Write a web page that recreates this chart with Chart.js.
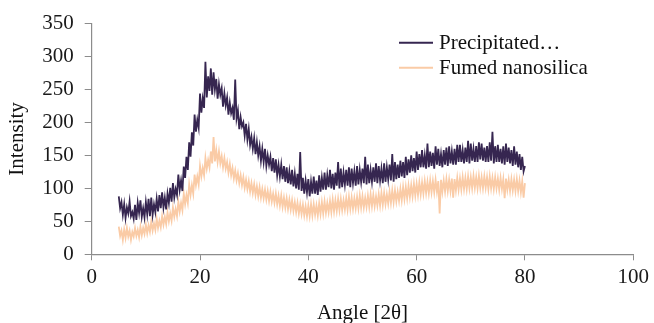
<!DOCTYPE html>
<html>
<head>
<meta charset="utf-8">
<script src="https://cdn.jsdelivr.net/npm/chart.js@4.4.0/dist/chart.umd.min.js"></script>
<style>
html,body{margin:0;padding:0;background:#fff;}
#c{display:block;}
</style>
</head>
<body>
<canvas id="c" width="654" height="323"></canvas>
<script>
// Sampling grid of the diffractograms: 5° to 80° 2θ, every 0.25°
const angleStart = 5, angleStep = 0.25;

// Precipitated nanosilica, 4 samples per degree
const precipitated = [
88,70,79,60, 76,55,71,62, 80,58,64,54, 75,52,78,63, 82,57,70,56,
79,61,84,58, 86,60,76,64, 84,65,90,70, 94,71,86,68, 92,78,101,80,
108,86,99,90, 121,98,112,96, 133,116,148,128, 170,148,185,165, 212,186,204,192,
244,215,236,222, 292,238,270,248, 282,242,276,250, 266,236,258,242, 252,224,244,226,
238,212,230,214, 222,204,265,206, 218,190,208,194, 200,180,198,174, 190,166,178,160,
176,152,170,150, 164,142,160,140, 160,134,150,136, 148,126,146,124, 144,120,136,118,
136,114,134,110, 132,108,126,106, 128,103,122,100, 122,98,155,96, 116,92,112,94,
114,88,110,92, 118,92,112,90, 120,95,116,98, 124,98,120,102, 128,100,122,98,
124,104,140,100, 130,102,124,106, 128,104,132,102, 130,108,126,104, 134,106,128,110,
130,108,148,106, 136,108,128,110, 132,110,138,108, 134,112,130,108, 138,110,132,114,
136,112,152,110, 140,114,136,116, 142,118,140,116, 148,120,144,124, 150,126,146,124,
156,128,152,132, 158,132,150,130, 168,132,156,134, 154,130,164,136, 160,134,152,132,
158,136,162,134, 164,138,156,136, 160,136,166,140, 166,140,158,138, 162,140,172,138,
168,142,160,140, 164,140,170,144, 168,142,162,140, 164,140,170,142, 186,138,164,140,
166,140,160,138, 164,136,168,140, 162,138,158,134, 164,136,156,132, 152,128,148,126,
134
];

// Fumed nanosilica, 4 samples per degree
const fumed = [
42,28,36,22, 38,25,40,27, 36,22,34,27, 40,28,37,26, 42,29,40,31,
45,32,44,34, 50,36,47,37, 54,40,51,41, 58,45,57,46, 64,50,62,51,
71,57,69,58, 80,65,78,67, 92,76,90,78, 106,90,105,92, 121,105,118,106,
134,118,131,120, 146,130,143,132, 156,138,178,141, 158,140,156,138, 149,132,146,130,
140,124,137,120, 131,115,127,112, 123,108,120,105, 117,101,113,99, 111,95,108,93,
106,90,103,88, 102,86,99,85, 98,83,96,81, 95,80,92,78, 92,76,89,74,
89,72,86,71, 85,69,83,68, 82,66,79,64, 78,62,76,61, 75,59,73,58,
74,58,76,59, 76,60,74,59, 77,61,79,62, 80,63,78,64, 81,64,83,65,
82,66,84,67, 84,67,82,68, 85,68,87,69, 86,69,85,70, 87,70,89,71,
88,71,86,72, 89,72,91,73, 90,73,88,74, 91,74,93,75, 93,76,91,77,
95,78,97,79, 97,80,95,81, 99,82,102,84, 102,85,104,87, 105,88,107,89,
107,90,109,91, 109,92,111,93, 110,93,112,94, 111,94,113,95, 111,62,113,95,
112,95,114,96, 113,96,115,86, 114,97,116,98, 115,98,117,99, 116,99,118,100,
117,100,119,101, 117,100,119,101, 117,100,118,101, 117,99,118,100, 116,99,117,100,
115,98,116,99, 114,85,115,98, 113,96,114,97, 113,96,114,96, 112,94,111,86,
108
];

const seriesLabels = ['Precipitated\u2026', 'Fumed nanosilica'];
const seriesColors = ['rgb(54,38,80)', 'rgb(250,203,166)'];
const xTicks = [0, 20, 40, 60, 80, 100];
const yTicks = [0, 50, 100, 150, 200, 250, 300, 350];

const angles = precipitated.map((_, i) => angleStart + i * angleStep);
const toPoints = arr => arr.map((v, i) => ({x: angles[i], y: v}));

const axisColor = '#8c8c8c';
const serif = "'Liberation Serif', 'Times New Roman', serif";

const legendPlugin = {
  id: 'insideLegend',
  afterDraw(chart) {
    const ctx = chart.ctx;
    ctx.save();
    chart.data.datasets.forEach((ds, i) => {
      const y = 42.7 + i * 25;
      ctx.strokeStyle = ds.borderColor;
      ctx.lineWidth = 2;
      ctx.beginPath();
      ctx.moveTo(399, y);
      ctx.lineTo(433, y);
      ctx.stroke();
      ctx.fillStyle = '#111';
      ctx.font = '21px ' + serif;
      ctx.textBaseline = 'alphabetic';
      ctx.textAlign = 'left';
      ctx.fillText(ds.label, 439, y + 6);
    });
    ctx.restore();
  }
};

new Chart(document.getElementById('c'), {
  type: 'line',
  data: {
    datasets: [
      {label: seriesLabels[0], data: toPoints(precipitated), borderColor: seriesColors[0], borderWidth: 1.8, pointRadius: 0, tension: 0, fill: false},
      {label: seriesLabels[1], data: toPoints(fumed), borderColor: seriesColors[1], borderWidth: 1.8, pointRadius: 0, tension: 0, fill: false}
    ]
  },
  options: {
    responsive: false,
    animation: false,
    events: [],
    layout: {padding: {left: 0, top: 21.5, right: 18, bottom: 0}},
    plugins: {legend: {display: false}, tooltip: {enabled: false}},
    scales: {
      x: {
        type: 'linear', min: 0, max: 100,
        afterBuildTicks: s => { s.ticks = xTicks.map(v => ({value: v})); },
        afterFit: s => { s.height = 68.7; },
        grid: {display: true, drawOnChartArea: false, drawTicks: true, tickLength: 6, color: axisColor, lineWidth: 1},
        border: {display: true, color: axisColor, width: 1.2},
        ticks: {color: '#1a1a1a', font: {family: serif, size: 21}, padding: 5, maxRotation: 0},
        title: {display: true, text: 'Angle [2\u03b8]', color: '#111', font: {family: serif, size: 21}, padding: {top: 0, bottom: -3}}
      },
      y: {
        type: 'linear', min: 0, max: 350,
        afterBuildTicks: s => { s.ticks = yTicks.map(v => ({value: v})); },
        afterFit: s => { s.width = 91.7; },
        grid: {display: true, drawOnChartArea: false, drawTicks: true, tickLength: 7, color: axisColor, lineWidth: 1},
        border: {display: true, color: axisColor, width: 1.2},
        ticks: {color: '#1a1a1a', font: {family: serif, size: 21}, padding: 11},
        title: {display: true, text: 'Intensity', color: '#111', font: {family: serif, size: 21}, padding: {top: 5, bottom: 0}}
      }
    }
  },
  plugins: [legendPlugin]
});
</script>
</body>
</html>
